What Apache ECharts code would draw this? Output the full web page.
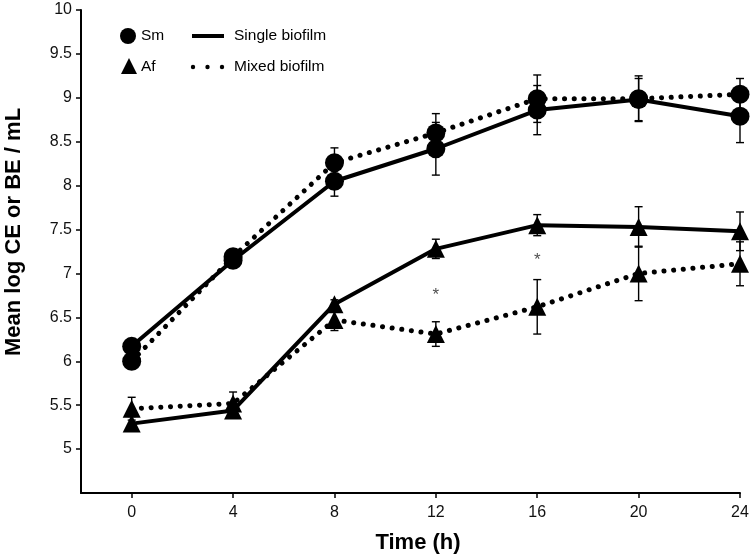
<!DOCTYPE html>
<html>
<head>
<meta charset="utf-8">
<script src="https://cdn.jsdelivr.net/npm/echarts@6/dist/echarts.min.js"></script>
<style>
html,body{margin:0;padding:0;background:#fff;}
#chart{width:752px;height:555px;}
</style>
</head>
<body>
<div id="chart"></div>
<script>
// ---- data ----
var times = [0, 4, 8, 12, 16, 20, 24];
var xTickValues = [0, 4, 8, 12, 16, 20, 24];
var yTickValues = [5, 5.5, 6, 6.5, 7, 7.5, 8, 8.5, 9, 9.5, 10];

var smSingle    = [6.17, 7.15, 8.05, 8.42, 8.86, 8.98, 8.79];
var smSingleErr = [0.05, 0.05, 0.17, 0.30, 0.28, 0.24, 0.30];
var smMixed     = [6.00, 7.19, 8.26, 8.60, 8.99, 8.99, 9.04];
var smMixedErr  = [0.05, 0.06, 0.17, 0.22, 0.27, 0.26, 0.18];
var afSingle    = [5.29, 5.44, 6.65, 7.28, 7.55, 7.53, 7.48];
var afSingleErr = [0.08, 0.05, 0.05, 0.11, 0.12, 0.23, 0.22];
var afMixed     = [5.46, 5.52, 6.47, 6.31, 6.62, 7.00, 7.11];
var afMixedErr  = [0.13, 0.13, 0.12, 0.14, 0.31, 0.31, 0.25];

var asteriskTimes  = [12, 16];
var asteriskValues = [6.80, 7.20];

var legendLabels = ['Sm', 'Af', 'Single biofilm', 'Mixed biofilm'];
var xTitle = 'Time (h)';
var yTitle = 'Mean log CE or BE / mL';

// ---- helpers ----
function pairs(xs, ys) { return xs.map(function (x, i) { return [x, ys[i]]; }); }
function errData(xs, ys, es) { return xs.map(function (x, i) { return [x, ys[i] - es[i], ys[i] + es[i]]; }); }

var FONT = '"Liberation Sans", Arial, sans-serif';
var INK = '#000';

function errorSeries(xs, ys, es) {
  return {
    type: 'custom',
    data: errData(xs, ys, es),
    z: 4,
    renderItem: function (params, api) {
      var x = api.value(0);
      var lo = api.coord([x, api.value(1)]);
      var hi = api.coord([x, api.value(2)]);
      var w = 4;
      var st = { stroke: INK, lineWidth: 1.4 };
      return {
        type: 'group',
        children: [
          { type: 'line', shape: { x1: lo[0], y1: lo[1], x2: hi[0], y2: hi[1] }, style: st },
          { type: 'line', shape: { x1: lo[0] - w, y1: lo[1], x2: lo[0] + w, y2: lo[1] }, style: st },
          { type: 'line', shape: { x1: hi[0] - w, y1: hi[1], x2: hi[0] + w, y2: hi[1] }, style: st }
        ]
      };
    }
  };
}

function lineSeries(ys, symbol, size, dotted) {
  return {
    type: 'line',
    data: pairs(times, ys),
    symbol: symbol,
    symbolSize: size,
    showAllSymbol: true,
    z: dotted ? 3 : 2,
    itemStyle: { color: INK, borderWidth: 0 },
    lineStyle: dotted
      ? { color: INK, width: 5, type: [0.1, 9.6], cap: 'round' }
      : { color: INK, width: 4, type: 'solid' },
    emphasis: { disabled: true },
    animation: false
  };
}

var chart = echarts.init(document.getElementById('chart'), null, { renderer: 'canvas' });

var option = {
  animation: false,
  backgroundColor: '#fff',
  grid: { left: 81, top: 10, width: 659, height: 483, containLabel: false },
  xAxis: {
    type: 'value',
    min: -2,
    max: 24,
    axisLine: { show: true, onZero: false, lineStyle: { color: INK, width: 2 } },
    axisTick: { show: true, customValues: xTickValues, length: 5, lineStyle: { color: INK, width: 1.5 } },
    axisLabel: { show: true, customValues: xTickValues, fontFamily: FONT, fontSize: 16, color: '#111', margin: 12 },
    splitLine: { show: false }
  },
  yAxis: {
    type: 'value',
    min: 4.5,
    max: 10,
    interval: 0.5,
    axisLine: { show: true, onZero: false, lineStyle: { color: INK, width: 2 } },
    axisTick: { show: true, customValues: yTickValues, length: 5, lineStyle: { color: INK, width: 1.5 } },
    axisLabel: { show: true, customValues: yTickValues, fontFamily: FONT, fontSize: 16, color: '#111', margin: 9 },
    splitLine: { show: false }
  },
  series: [
    errorSeries(times, smSingle, smSingleErr),
    errorSeries(times, smMixed, smMixedErr),
    errorSeries(times, afSingle, afSingleErr),
    errorSeries(times, afMixed, afMixedErr),
    lineSeries(smSingle, 'circle', 19, false),
    lineSeries(smMixed, 'circle', 19, true),
    lineSeries(afSingle, 'triangle', 18, false),
    lineSeries(afMixed, 'triangle', 18, true),
    {
      type: 'scatter',
      data: pairs(asteriskTimes, asteriskValues),
      symbol: 'circle',
      symbolSize: 1,
      itemStyle: { color: 'rgba(0,0,0,0)' },
      label: { show: true, position: 'inside', formatter: '*', fontFamily: FONT, fontSize: 17, color: '#222', offset: [0, 4] },
      z: 5
    }
  ],
  graphic: [
    { type: 'text', x: 14, y: 232, rotation: Math.PI / 2,
      style: { text: yTitle, font: 'bold 22px ' + FONT, fill: INK, align: 'center', verticalAlign: 'middle' } },
    { type: 'text', x: 418, y: 543,
      style: { text: xTitle, font: 'bold 22px ' + FONT, fill: INK, align: 'center', verticalAlign: 'middle' } },
    { type: 'circle', shape: { cx: 128, cy: 36, r: 8 }, style: { fill: INK } },
    { type: 'text', x: 141, y: 36, style: { text: legendLabels[0], font: '15.5px ' + FONT, fill: INK, verticalAlign: 'middle' } },
    { type: 'polygon', shape: { points: [[129, 58], [137, 74], [121, 74]] }, style: { fill: INK } },
    { type: 'text', x: 141, y: 67, style: { text: legendLabels[1], font: '15.5px ' + FONT, fill: INK, verticalAlign: 'middle' } },
    { type: 'line', shape: { x1: 192, y1: 36, x2: 224, y2: 36 }, style: { stroke: INK, lineWidth: 4 } },
    { type: 'text', x: 234, y: 36, style: { text: legendLabels[2], font: '15.5px ' + FONT, fill: INK, verticalAlign: 'middle' } },
    { type: 'circle', shape: { cx: 193, cy: 67, r: 2.2 }, style: { fill: INK } },
    { type: 'circle', shape: { cx: 207.5, cy: 67, r: 2.2 }, style: { fill: INK } },
    { type: 'circle', shape: { cx: 222, cy: 67, r: 2.2 }, style: { fill: INK } },
    { type: 'text', x: 234, y: 67, style: { text: legendLabels[3], font: '15.5px ' + FONT, fill: INK, verticalAlign: 'middle' } }
  ]
};

chart.setOption(option);
</script>
</body>
</html>
